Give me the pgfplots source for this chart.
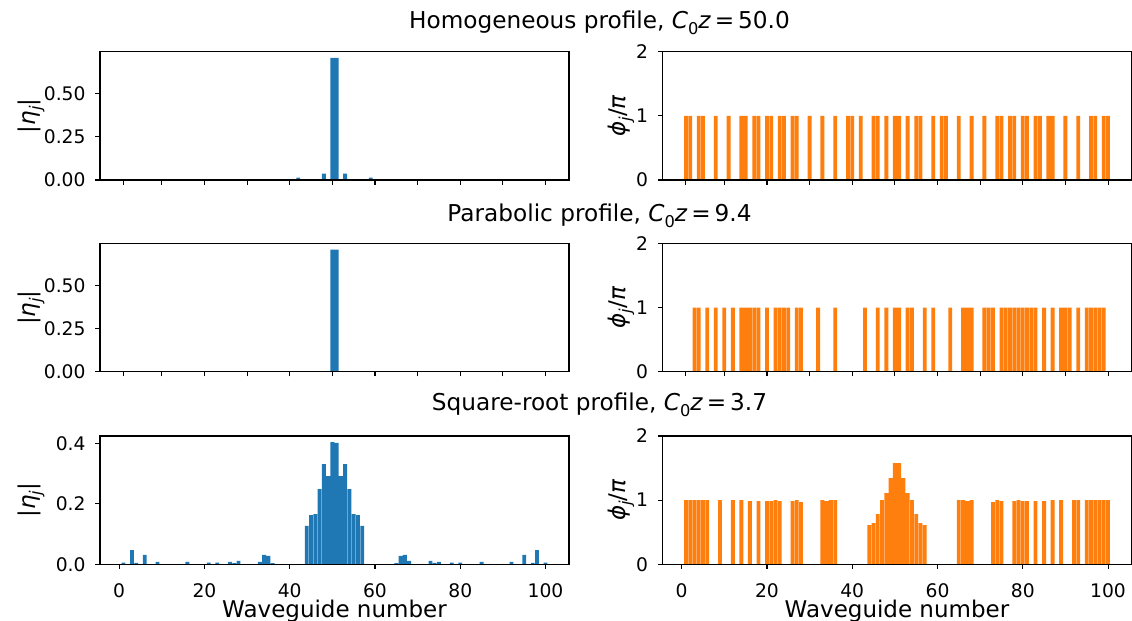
\documentclass[border=0pt]{standalone}
\usepackage{fontspec}
\setmainfont{DejaVu Sans}
\usepackage{graphicx}
\usepackage{pgfplots}
\pgfplotsset{compat=1.18}

\definecolor{tabblue}{HTML}{1F77B4}
\definecolor{taborange}{HTML}{FF7F0E}

\newcommand{\sub}[1]{\raisebox{-0.25em}{\scalebox{0.7}{#1}}}
\newcommand{\amp}{|\textit{η}\sub{\textit{j}}|}
\newcommand{\pha}{\textit{ϕ}\sub{\textit{j}}/\textit{π}}

\pgfplotsset{
  panel/.style={
    scale only axis, width=234.5pt, height=64.15pt,
    xmin=-4.5, xmax=105.5, ymin=0, axis on top,
    axis line style={line width=0.54pt},
    every tick/.style={black, line width=0.54pt},
    tick align=outside, tick pos=left, major tick length=2.35pt,
    ticklabel style={font=\fontsize{9.35}{11}\selectfont},
    /pgf/number format/assume math mode=true,
    yticklabel style={anchor=east, inner sep=0pt, xshift=-4.7pt},
    xticklabel style={anchor=north, inner sep=0pt, yshift=-7.35pt},
    every axis y label/.style={at={(axis description cs:-0.147,0.5)}, rotate=90, anchor=center,
      font=\fontsize{11.5}{13}\selectfont},
    every axis x label/.style={at={(axis description cs:0.5,0)}, anchor=base, yshift=-26.65pt,
      font=\fontsize{11.5}{13}\selectfont},
  },
  upper/.style={xtick={1,10,20,30,40,50,60,70,80,90,100}, xticklabels={}},
  lower/.style={xtick={0,20,40,60,80,100}, xlabel={Waveguide number}},
  amp/.style={ylabel={\amp}},
  pha/.style={ymax=2, ytick={0,1,2}, ylabel={\pha},
    every axis y label/.append style={at={(axis description cs:-0.0886,0.5)}}},
  fix2/.style={yticklabel style={/pgf/number format/.cd, fixed, fixed zerofill, precision=2}},
  fix1/.style={yticklabel style={/pgf/number format/.cd, fixed, fixed zerofill, precision=1}},
  bl/.style={ybar, bar width=0.9, bar shift=0pt, fill=tabblue, draw=none},
  or/.style={ybar, bar width=0.9, bar shift=0pt, fill=taborange, draw=none},
}

\begin{document}
\begin{tikzpicture}
\node[font=\fontsize{11.6}{14}\selectfont] at (299.75pt,299pt) {Homogeneous profile, \textit{C}\sub{0}\textit{z}\,=\,50.0};
\node[font=\fontsize{11.6}{14}\selectfont] at (299.75pt,202.75pt) {Parabolic profile, \textit{C}\sub{0}\textit{z}\,=\,9.4};
\node[font=\fontsize{11.6}{14}\selectfont] at (299.75pt,108.25pt) {Square-root profile, \textit{C}\sub{0}\textit{z}\,=\,3.7};

% homogeneous
\begin{axis}[panel, upper, amp, fix2, at={(50pt,220.5pt)}, anchor=south west,
  ymax=0.7445, ytick={0,0.25,0.5}]
\addplot[bl] coordinates {(5,0.003)(7,0.003)(11,0.003)(14,0.003)(17,0.003)(21,0.003)(24,0.003)
 (27,0.003)(30,0.003)(33,0.003)(36,0.003)(39,0.003)(42,0.0136)(45,0.003)(48,0.037)(50,0.709)
 (51,0.709)(53,0.037)(56,0.003)(59,0.0136)(62,0.003)(65,0.003)(68,0.003)(71,0.003)(74,0.003)
 (77,0.003)(80,0.003)(84,0.003)(87,0.003)(90,0.003)(94,0.003)(96,0.003)};
\end{axis}
\begin{axis}[panel, upper, pha, at={(331.25pt,220.5pt)}, anchor=south west]
\addplot[or] coordinates {(1,1)(2,1)(4,1)(5,1)(8,1)(11,1)(14,1)(15,1)(17,1)(18,1)(20,1)(21,1)
 (23,1)(24,1)(26,1)(27,1)(30,1)(33,1)(36,1)(39,1)(40,1)(42,1)(45,1)(46,1)(48,1)(50,1)(51,1)
 (53,1)(55,1)(56,1)(59,1)(61,1)(62,1)(65,1)(68,1)(71,1)(74,1)(75,1)(77,1)(78,1)(80,1)(81,1)
 (83,1)(84,1)(86,1)(87,1)(90,1)(93,1)(96,1)(97,1)(99,1)(100,1)};
\end{axis}

% parabolic
\begin{axis}[panel, upper, amp, fix2, at={(50pt,124.65pt)}, anchor=south west,
  ymax=0.7425, ytick={0,0.25,0.5}]
\addplot[bl] coordinates {(50,0.7071)(51,0.7071)};
\end{axis}
\begin{axis}[panel, upper, pha, at={(331.25pt,124.65pt)}, anchor=south west]
\addplot[or] coordinates {(3,1)(4,1)(6,1)(8,1)(10,1)(12,1)(14,1)(15,1)(16,1)(17,1)(18,1)(20,1)
 (22,1)(23,1)(24,1)(25,1)(27,1)(28,1)(32,1)(36,1)(43,1)(46,1)(48,1)(50,1)(51,1)(53,1)(54,1)
 (57,1)(59,1)(63,1)(66,1)(67,1)(68,1)(71,1)(72,1)(73,1)(75,1)(76,1)(77,1)(78,1)(79,1)(80,1)
 (81,1)(82,1)(83,1)(85,1)(87,1)(89,1)(90,1)(91,1)(93,1)(95,1)(96,1)(97,1)(98,1)(99,1)};
\end{axis}

% square-root
\begin{axis}[panel, lower, amp, fix1, at={(50pt,28.35pt)}, anchor=south west,
  ymax=0.425, ytick={0,0.2,0.4}]
\addplot[bl] coordinates {(1,0.0055)(3,0.047)(4,0.005)(6,0.031)(9,0.008)(16,0.008)(21,0.0055)
 (23,0.0055)(26,0.008)(27,0.004)(28,0.011)(33,0.008)(34,0.031)(35,0.028)(36,0.004)(44,0.127)
 (45,0.163)(46,0.166)(47,0.249)(48,0.332)(49,0.292)(50,0.405)(51,0.402)(52,0.292)(53,0.332)
 (54,0.249)(55,0.166)(56,0.163)(57,0.127)(65,0.004)(66,0.028)(67,0.031)(68,0.011)(73,0.011)
 (74,0.005)(75,0.008)(78,0.0055)(80,0.0055)(85,0.008)(92,0.008)(95,0.031)(97,0.005)(98,0.047)
 (100,0.0055)};
\end{axis}
\begin{axis}[panel, lower, pha, at={(331.25pt,28.35pt)}, anchor=south west]
\addplot[or] coordinates {(1,1)(2,1)(3,1)(4,1)(5,1)(6,1)(9,1)(12,1)(14,1)(16,0.984)(18,0.984)
 (20,0.984)(21,0.984)(22,1)(23,0.984)(26,0.984)(27,1)(28,0.969)(33,1)(34,0.984)(35,1)(36,1)
 (44,0.609)(45,0.641)(46,0.781)(47,1)(48,1.109)(49,1.344)(50,1.578)(51,1.578)(52,1.344)
 (53,1.109)(54,1)(55,0.781)(56,0.641)(57,0.609)(65,1)(66,1)(67,0.984)(68,1)(73,0.969)(74,1)
 (75,0.984)(78,0.984)(79,1)(80,0.984)(81,0.984)(83,0.984)(85,0.984)(87,1)(89,1)(92,1)(93,1)
 (95,1)(96,1)(97,1)(98,1)(99,1)(100,1)};
\end{axis}

\pgfresetboundingbox
\path[use as bounding box] (0,0) rectangle (566pt,310.5pt);
\end{tikzpicture}
\end{document}
